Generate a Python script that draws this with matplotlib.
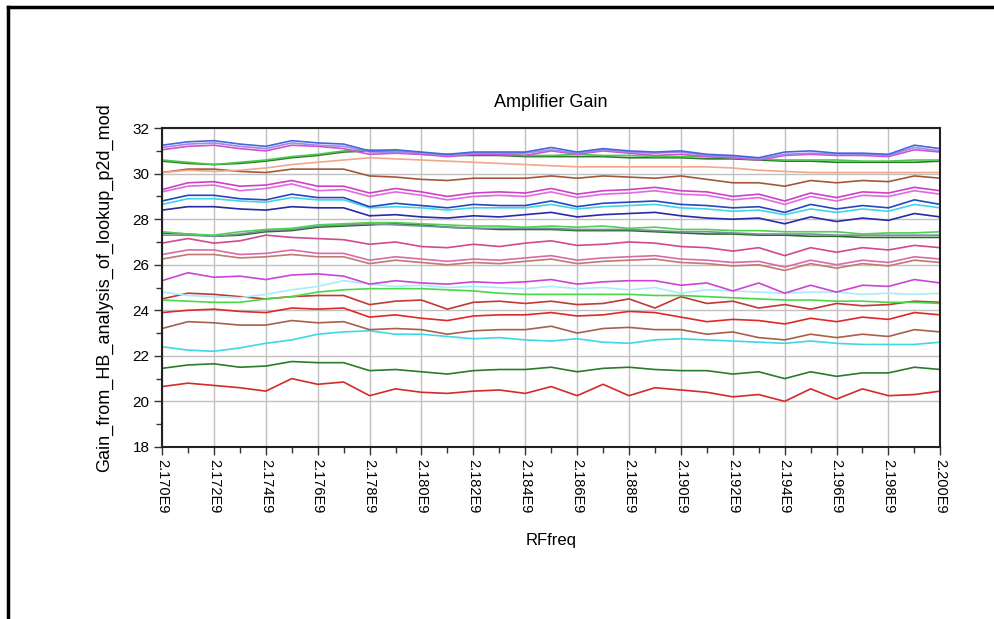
import matplotlib
matplotlib.use("Agg")
import matplotlib.pyplot as plt
from matplotlib.ticker import MultipleLocator
from matplotlib.lines import Line2D

plt.rcParams['font.family'] = ['Liberation Sans', 'DejaVu Sans']

# -------- data (gain in dB, 1 MHz steps) --------
rf_freq = [2.170e9, 2.171e9, 2.172e9, 2.173e9, 2.174e9, 2.175e9, 2.176e9, 2.177e9,
           2.178e9, 2.179e9, 2.180e9, 2.181e9, 2.182e9, 2.183e9, 2.184e9, 2.185e9,
           2.186e9, 2.187e9, 2.188e9, 2.189e9, 2.190e9, 2.191e9, 2.192e9, 2.193e9,
           2.194e9, 2.195e9, 2.196e9, 2.197e9, 2.198e9, 2.199e9, 2.200e9]

x_ticks = [2.170e9, 2.172e9, 2.174e9, 2.176e9, 2.178e9, 2.180e9, 2.182e9, 2.184e9,
           2.186e9, 2.188e9, 2.190e9, 2.192e9, 2.194e9, 2.196e9, 2.198e9, 2.200e9]
x_tick_labels = ["2.170E9", "2.172E9", "2.174E9", "2.176E9", "2.178E9", "2.180E9",
                 "2.182E9", "2.184E9", "2.186E9", "2.188E9", "2.190E9", "2.192E9",
                 "2.194E9", "2.196E9", "2.198E9", "2.200E9"]
y_ticks = [18, 20, 22, 24, 26, 28, 30, 32]

gain_blue_top = [31.25, 31.4, 31.45, 31.3, 31.2, 31.45, 31.35, 31.3, 31.0, 31.05, 30.95, 30.85, 30.95, 30.95, 30.95, 31.15,
                 30.95, 31.1, 31.0, 30.95, 31.0, 30.85, 30.8, 30.7, 30.95, 31.0, 30.9, 30.9, 30.85, 31.25, 31.1]
gain_violet_top = [31.15, 31.3, 31.35, 31.2, 31.1, 31.35, 31.25, 31.2, 30.95, 30.95, 30.9, 30.8, 30.9, 30.9, 30.9, 31.05,
                   30.9, 31.05, 30.95, 30.9, 30.95, 30.8, 30.75, 30.65, 30.85, 30.9, 30.85, 30.85, 30.8, 31.15, 31.0]
gain_magenta_top = [31.05, 31.2, 31.25, 31.1, 31.0, 31.25, 31.2, 31.1, 30.85, 30.9, 30.85, 30.75, 30.85, 30.85, 30.8, 31.0,
                    30.85, 31.0, 30.9, 30.8, 30.85, 30.75, 30.7, 30.6, 30.8, 30.85, 30.8, 30.8, 30.75, 31.05, 30.95]
gain_green_31 = [30.6, 30.5, 30.4, 30.5, 30.6, 30.75, 30.85, 31.0, 31.05, 31.0, 30.9, 30.85, 30.85, 30.85, 30.8, 30.8,
                 30.85, 30.8, 30.8, 30.75, 30.75, 30.75, 30.7, 30.65, 30.6, 30.6, 30.6, 30.55, 30.55, 30.6, 30.6]
gain_dkgreen_31 = [30.55, 30.45, 30.4, 30.45, 30.55, 30.7, 30.8, 30.95, 31.0, 30.95, 30.85, 30.8, 30.8, 30.8, 30.75, 30.75,
                   30.75, 30.75, 30.7, 30.7, 30.7, 30.65, 30.65, 30.6, 30.55, 30.55, 30.5, 30.5, 30.5, 30.5, 30.55]
gain_salmon_30 = [30.05, 30.15, 30.1, 30.15, 30.25, 30.4, 30.5, 30.6, 30.7, 30.65, 30.6, 30.55, 30.5, 30.45, 30.4, 30.35,
                  30.3, 30.3, 30.3, 30.3, 30.3, 30.3, 30.25, 30.15, 30.1, 30.05, 30.05, 30.05, 30.05, 30.05, 30.05]
gain_brown_30 = [30.05, 30.2, 30.2, 30.1, 30.05, 30.2, 30.2, 30.2, 29.9, 29.85, 29.75, 29.7, 29.8, 29.8, 29.8, 29.9,
                 29.8, 29.9, 29.85, 29.8, 29.9, 29.75, 29.6, 29.6, 29.45, 29.7, 29.6, 29.7, 29.65, 29.9, 29.8]
gain_magenta_29a = [29.3, 29.6, 29.65, 29.45, 29.5, 29.7, 29.45, 29.45, 29.15, 29.35, 29.2, 29.0, 29.15, 29.2, 29.15, 29.35,
                    29.1, 29.25, 29.3, 29.4, 29.25, 29.2, 29.0, 29.1, 28.8, 29.15, 28.95, 29.2, 29.15, 29.4, 29.25]
gain_magenta_29b = [29.2, 29.45, 29.5, 29.25, 29.35, 29.55, 29.25, 29.3, 29.0, 29.2, 29.05, 28.85, 29.0, 29.05, 29.0, 29.2,
                    28.95, 29.1, 29.15, 29.25, 29.1, 29.05, 28.85, 28.95, 28.65, 29.0, 28.8, 29.05, 29.0, 29.25, 29.1]
gain_blue_29 = [28.8, 29.05, 29.05, 28.9, 28.85, 29.1, 28.95, 28.95, 28.55, 28.7, 28.6, 28.5, 28.65, 28.6, 28.6, 28.8,
                28.55, 28.7, 28.75, 28.8, 28.65, 28.6, 28.5, 28.55, 28.3, 28.65, 28.45, 28.6, 28.5, 28.85, 28.65]
gain_cyan_29 = [28.65, 28.9, 28.9, 28.8, 28.75, 28.95, 28.85, 28.85, 28.5, 28.55, 28.5, 28.4, 28.5, 28.5, 28.5, 28.65,
                28.45, 28.55, 28.6, 28.65, 28.5, 28.45, 28.35, 28.4, 28.2, 28.45, 28.3, 28.45, 28.35, 28.65, 28.5]
gain_navy_28 = [28.4, 28.55, 28.55, 28.45, 28.4, 28.55, 28.5, 28.5, 28.15, 28.2, 28.1, 28.05, 28.15, 28.1, 28.2, 28.3,
                28.1, 28.2, 28.25, 28.3, 28.15, 28.05, 28.0, 28.05, 27.8, 28.1, 27.9, 28.05, 27.95, 28.25, 28.1]
gain_green_27 = [27.45, 27.35, 27.3, 27.45, 27.55, 27.6, 27.75, 27.8, 27.85, 27.85, 27.8, 27.75, 27.7, 27.7, 27.65, 27.7,
                 27.65, 27.7, 27.6, 27.65, 27.55, 27.55, 27.5, 27.5, 27.45, 27.45, 27.45, 27.35, 27.4, 27.4, 27.45]
gain_slate_27 = [27.3, 27.3, 27.25, 27.35, 27.5, 27.55, 27.7, 27.75, 27.8, 27.75, 27.7, 27.65, 27.6, 27.6, 27.6, 27.6,
                 27.55, 27.55, 27.55, 27.5, 27.45, 27.45, 27.4, 27.35, 27.35, 27.35, 27.3, 27.3, 27.3, 27.3, 27.3]
gain_dkgreen_27 = [27.4, 27.35, 27.25, 27.3, 27.45, 27.5, 27.65, 27.7, 27.75, 27.8, 27.75, 27.65, 27.6, 27.55, 27.55, 27.55,
                   27.5, 27.5, 27.5, 27.45, 27.4, 27.35, 27.35, 27.3, 27.3, 27.25, 27.25, 27.2, 27.2, 27.2, 27.2]
gain_rose_27 = [26.95, 27.15, 26.95, 27.05, 27.3, 27.2, 27.15, 27.1, 26.9, 27.0, 26.8, 26.75, 26.9, 26.8, 26.95, 27.05,
                26.85, 26.9, 27.0, 26.95, 26.8, 26.75, 26.6, 26.75, 26.4, 26.75, 26.55, 26.75, 26.65, 26.85, 26.75]
gain_pink_26 = [26.45, 26.65, 26.65, 26.45, 26.5, 26.65, 26.5, 26.5, 26.2, 26.35, 26.25, 26.15, 26.25, 26.2, 26.3, 26.4,
                26.2, 26.3, 26.35, 26.4, 26.25, 26.2, 26.1, 26.15, 25.9, 26.2, 26.0, 26.2, 26.1, 26.35, 26.25]
gain_tan_26 = [26.25, 26.45, 26.45, 26.3, 26.35, 26.45, 26.35, 26.35, 26.05, 26.2, 26.1, 26.0, 26.1, 26.05, 26.15, 26.25,
               26.05, 26.15, 26.2, 26.25, 26.1, 26.05, 25.95, 26.0, 25.75, 26.05, 25.85, 26.05, 25.95, 26.2, 26.1]
gain_magenta_25 = [25.3, 25.65, 25.45, 25.5, 25.35, 25.55, 25.6, 25.5, 25.15, 25.3, 25.2, 25.15, 25.25, 25.2, 25.25, 25.35,
                   25.15, 25.25, 25.3, 25.3, 25.1, 25.2, 24.85, 25.2, 24.75, 25.1, 24.8, 25.1, 25.05, 25.35, 25.2]
gain_ltcyan_25 = [24.8, 24.65, 24.6, 24.55, 24.7, 24.9, 25.05, 25.3, 25.15, 25.05, 25.1, 25.0, 25.05, 25.0, 24.95, 25.05,
                  24.95, 25.0, 24.9, 25.0, 24.75, 24.9, 24.85, 24.8, 24.75, 24.8, 24.8, 24.7, 24.75, 24.7, 24.75]
gain_green_24 = [24.45, 24.4, 24.35, 24.35, 24.5, 24.6, 24.8, 24.9, 24.95, 24.95, 24.95, 24.9, 24.85, 24.75, 24.7, 24.7,
                 24.7, 24.7, 24.7, 24.65, 24.65, 24.6, 24.55, 24.5, 24.45, 24.45, 24.4, 24.4, 24.35, 24.35, 24.3]
gain_brick_24 = [24.5, 24.75, 24.7, 24.6, 24.5, 24.6, 24.65, 24.65, 24.25, 24.4, 24.45, 24.05, 24.35, 24.4, 24.3, 24.4,
                 24.25, 24.3, 24.5, 24.1, 24.6, 24.3, 24.4, 24.1, 24.25, 24.05, 24.3, 24.2, 24.25, 24.4, 24.35]
gain_red_24 = [23.9, 24.0, 24.05, 23.95, 23.9, 24.1, 24.05, 24.1, 23.7, 23.8, 23.65, 23.55, 23.75, 23.8, 23.8, 23.9,
               23.75, 23.8, 23.95, 23.9, 23.7, 23.5, 23.6, 23.55, 23.4, 23.65, 23.5, 23.7, 23.6, 23.9, 23.8]
gain_brown_23 = [23.2, 23.5, 23.45, 23.35, 23.35, 23.55, 23.45, 23.5, 23.15, 23.2, 23.15, 22.95, 23.1, 23.15, 23.15, 23.3,
                 23.0, 23.2, 23.25, 23.15, 23.15, 22.95, 23.05, 22.8, 22.7, 22.95, 22.8, 22.95, 22.85, 23.15, 23.05]
gain_cyan_22 = [22.4, 22.25, 22.2, 22.35, 22.55, 22.7, 22.95, 23.05, 23.1, 22.95, 22.95, 22.85, 22.75, 22.8, 22.7, 22.65,
                22.75, 22.6, 22.55, 22.7, 22.75, 22.7, 22.65, 22.6, 22.55, 22.65, 22.55, 22.5, 22.5, 22.5, 22.6]
gain_dkgreen_21 = [21.45, 21.6, 21.65, 21.5, 21.55, 21.75, 21.7, 21.7, 21.35, 21.4, 21.3, 21.2, 21.35, 21.4, 21.4, 21.5,
                   21.3, 21.45, 21.5, 21.4, 21.35, 21.35, 21.2, 21.3, 21.0, 21.3, 21.1, 21.25, 21.25, 21.5, 21.4]
gain_red_20 = [20.65, 20.8, 20.7, 20.6, 20.45, 21.0, 20.75, 20.85, 20.25, 20.55, 20.4, 20.35, 20.45, 20.5, 20.35, 20.65,
               20.25, 20.75, 20.25, 20.6, 20.5, 20.4, 20.2, 20.3, 20.0, 20.55, 20.1, 20.55, 20.25, 20.3, 20.45]

traces = [
    (gain_red_20, "#d42a2a"),
    (gain_dkgreen_21, "#2c7a2c"),
    (gain_cyan_22, "#3fd8e6"),
    (gain_brown_23, "#a8604a"),
    (gain_red_24, "#e02828"),
    (gain_brick_24, "#c03838"),
    (gain_green_24, "#4ad84a"),
    (gain_ltcyan_25, "#a8eef4"),
    (gain_magenta_25, "#cc44d4"),
    (gain_tan_26, "#c07a70"),
    (gain_pink_26, "#dc6aa4"),
    (gain_rose_27, "#d04a8c"),
    (gain_dkgreen_27, "#2a6a2a"),
    (gain_slate_27, "#7890a0"),
    (gain_green_27, "#52d052"),
    (gain_navy_28, "#2a2aa8"),
    (gain_cyan_29, "#44d4e4"),
    (gain_blue_29, "#2448c4"),
    (gain_magenta_29b, "#e06ae0"),
    (gain_magenta_29a, "#d040c4"),
    (gain_brown_30, "#a4583a"),
    (gain_salmon_30, "#f0a888"),
    (gain_dkgreen_31, "#2a7a2a"),
    (gain_green_31, "#4cc84c"),
    (gain_magenta_top, "#d050d0"),
    (gain_violet_top, "#a488e4"),
    (gain_blue_top, "#4466e0"),
]

fig = plt.figure(figsize=(9.94, 6.19), dpi=100)
ax = fig.add_axes([0.163, 0.278, 0.783, 0.515])

for ys, col in traces:
    ax.plot(rf_freq, ys, color=col, lw=1.2)

ax.set_xlim(2.170e9, 2.200e9)
ax.set_ylim(18, 32)
ax.set_xticks(x_ticks)
ax.set_xticklabels(x_tick_labels, rotation=-90, fontsize=10.5)
ax.set_yticks(y_ticks)
ax.tick_params(axis='y', labelsize=11)
ax.xaxis.set_minor_locator(MultipleLocator(1e6))
ax.yaxis.set_minor_locator(MultipleLocator(1))
ax.tick_params(which='major', direction='out', length=6, width=1, color='#333333', pad=3)
ax.tick_params(which='minor', direction='out', length=4, width=1, color='#333333')
ax.tick_params(top=False, right=False)
ax.grid(True, which='major', color='#c0c0c0', lw=1)
ax.set_axisbelow(True)
for s in ax.spines.values():
    s.set_color('#222222')
    s.set_linewidth(1.5)

ax.set_title("Amplifier Gain", fontsize=13, pad=15)
ax.set_xlabel("RFfreq", fontsize=12, labelpad=14)
ax.set_ylabel("Gain_from_HB_analysis_of_lookup_p2d_mod", fontsize=13, labelpad=14)

# outer frame of the window
fig.add_artist(Line2D([0.0085, 0.0085], [0.0, 0.988], color='black', lw=2.5, transform=fig.transFigure))
fig.add_artist(Line2D([0.0085, 0.998], [0.988, 0.988], color='black', lw=2.5, transform=fig.transFigure))

fig.savefig("out.png", dpi=100)
